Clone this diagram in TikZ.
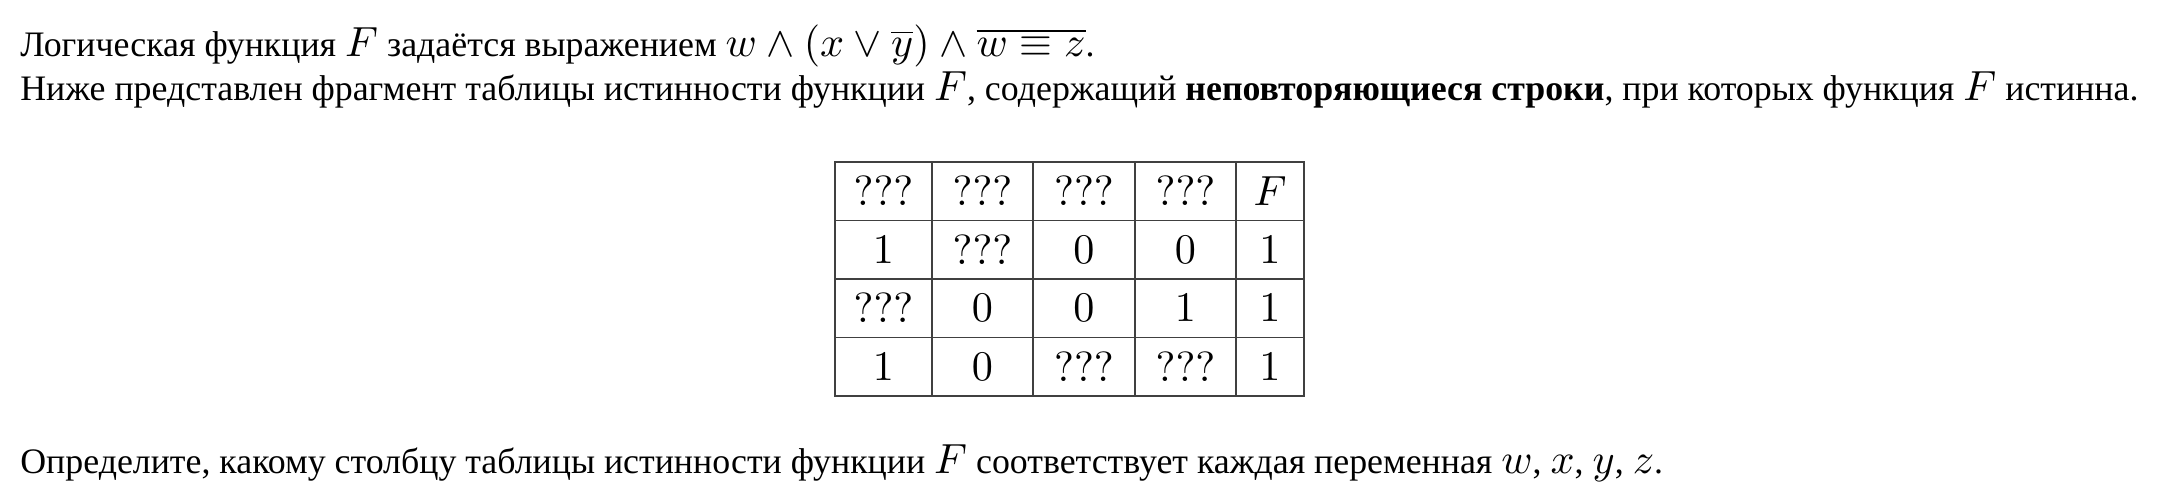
\documentclass[tikz,border=0pt]{standalone}
\usepackage{fontspec}
\setmainfont{Liberation Serif}
\usepackage{amsmath}
\usepackage{amssymb}
\usetikzlibrary{positioning}
\DeclareMathSizes{20.4}{24}{17}{12}
% Heavier 10pt designs for math at every size
\DeclareFontShape{OML}{cmm}{m}{it}{<->cmmi10}{}
\DeclareFontShape{OMS}{cmsy}{m}{n}{<->cmsy10}{}
\DeclareFontShape{OT1}{cmr}{m}{n}{<->cmr10}{}

\begin{document}
\begin{tikzpicture}[
    x=0.02cm, y=-0.02cm,
    line/.style={font=\fontsize{20.4pt}{24pt}\selectfont, anchor=base west, inner sep=0pt},
    cell/.style={rectangle, draw=black!75, line width=0.8pt, text centered, minimum height=1.17cm, inner sep=0pt, font=\fontsize{20.4pt}{24pt}\selectfont},
    narrow/.style={cell, minimum width=1.94cm},
    wide/.style={cell, minimum width=2.02cm},
    last/.style={cell, minimum width=1.36cm},
]

%Background
\useasboundingbox (0,0) rectangle (2158,502);
\fill[white] (0,0) rectangle (2158,502);

% Text lines
\node[line] (intro) at (20, 56.7) {Логическая функция $F$ задаётся выражением $w \wedge (x \vee \overline{y}) \wedge \overline{w \equiv z}$.};
\node[line] (task) at (20, 100.7) {Ниже представлен фрагмент таблицы истинности функции $F$, содержащий \textbf{неповторяющиеся строки}, при которых функция $F$ истинна.};

% Table header
\node[narrow] (head_1) at (883.5, 191.25) {$???$};
\node[wide] (head_2) at (982.5, 191.25) {$???$};
\node[wide, minimum width=2.04cm] (head_3) at (1084, 191.25) {$???$};
\node[wide] (head_4) at (1185.5, 191.25) {$???$};
\node[last] (head_f) at (1270, 191.25) {$F$};

% Row 1
\node[narrow] (row1_1) at (883.5, 249.75) {$1$};
\node[wide] (row1_2) at (982.5, 249.75) {$???$};
\node[wide, minimum width=2.04cm] (row1_3) at (1084, 249.75) {$0$};
\node[wide] (row1_4) at (1185.5, 249.75) {$0$};
\node[last] (row1_f) at (1270, 249.75) {$1$};

% Row 2
\node[narrow] (row2_1) at (883.5, 308.25) {$???$};
\node[wide] (row2_2) at (982.5, 308.25) {$0$};
\node[wide, minimum width=2.04cm] (row2_3) at (1084, 308.25) {$0$};
\node[wide] (row2_4) at (1185.5, 308.25) {$1$};
\node[last] (row2_f) at (1270, 308.25) {$1$};

% Row 3
\node[narrow] (row3_1) at (883.5, 366.75) {$1$};
\node[wide] (row3_2) at (982.5, 366.75) {$0$};
\node[wide, minimum width=2.04cm] (row3_3) at (1084, 366.75) {$???$};
\node[wide] (row3_4) at (1185.5, 366.75) {$???$};
\node[last] (row3_f) at (1270, 366.75) {$1$};

% Question
\node[line] (question) at (20, 474) {Определите, какому столбцу таблицы истинности функции $F$ соответствует каждая переменная $w$, $x$, $y$, $z$.};

\end{tikzpicture}
\end{document}
